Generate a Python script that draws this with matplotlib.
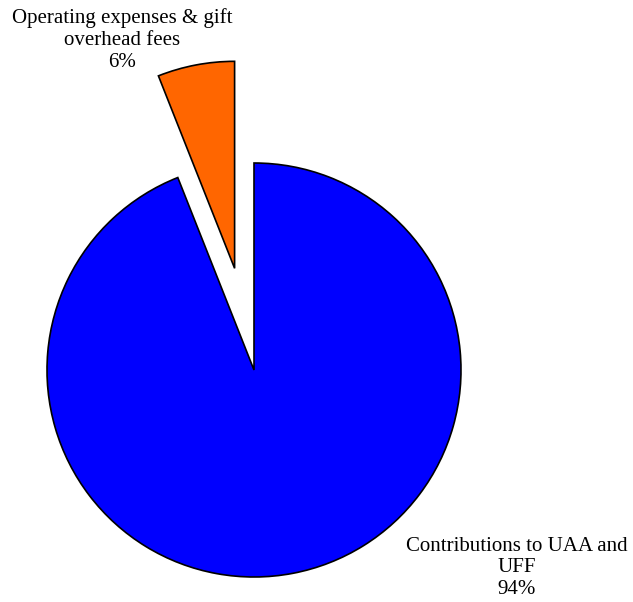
import matplotlib
matplotlib.use("Agg")
import matplotlib.pyplot as plt

labels = ["Contributions to UAA and\nUFF", "Operating expenses & gift\noverhead fees"]
values = [94, 6]
colors = ["#0000FF", "#FF6600"]
explode = [0.0, 0.5]

W, H = 633, 602
cx, cy, r = 254, 370, 207

fig = plt.figure(figsize=(W / 100, H / 100), dpi=100)
ax = fig.add_axes([0, 0, 1, 1])

wedges, _ = ax.pie(values, colors=colors, explode=explode, startangle=90,
                   counterclock=False, radius=1.0,
                   wedgeprops=dict(edgecolor="black", linewidth=1.2))
for w in wedges:
    w.set_clip_on(False)

ax.set_aspect("auto")
ax.set_xlim(-cx / r, (W - cx) / r)
ax.set_ylim(-(H - cy) / r, cy / r)
ax.axis("off")

font = dict(family=["Liberation Serif", "DejaVu Serif"], fontsize=15)
texts = [f"{labels[0]}\n{values[0]}%", f"{labels[1]}\n{values[1]}%"]
pos = [(517, 568), (122, 40)]
for t, (px, py) in zip(texts, pos):
    ax.text((px - cx) / r, (cy - py) / r, t, ha="center", va="center",
            multialignment="center", linespacing=1.2, **font)

fig.savefig("out.png", dpi=100)
